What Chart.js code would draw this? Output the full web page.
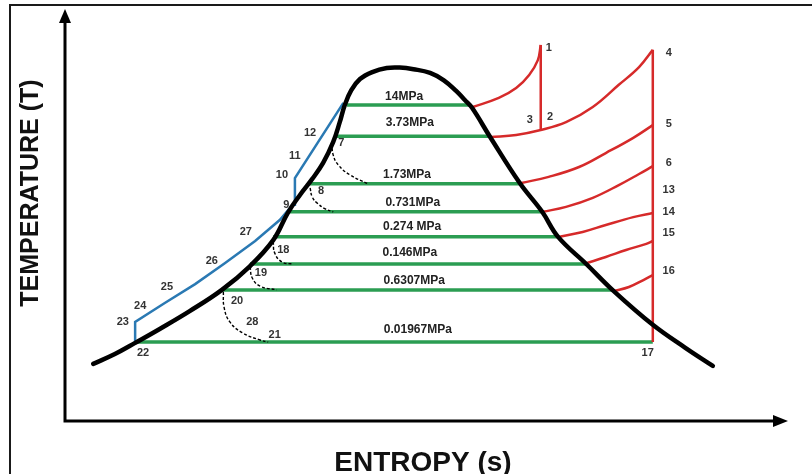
<!DOCTYPE html>
<html>
<head>
<meta charset="utf-8">
<script src="https://cdn.jsdelivr.net/npm/chart.js@4.4.1/dist/chart.umd.min.js"></script>
<style>
  html, body { margin: 0; padding: 0; background: #fff; }
  #wrap { width: 812px; height: 474px; }
</style>
</head>
<body>
<div id="wrap"><canvas id="ts"></canvas></div>
<script>
// T-s diagram: saturation dome, isobars, turbine / reheat lines, pump line.
// s in arbitrary entropy units (0..10), T in arbitrary temperature units (0..100).

// saturation dome
const satS = [0.39, 0.69, 0.97, 1.31, 1.73, 2.17, 2.56, 2.88, 3.08, 3.25, 3.42, 3.57, 3.71, 3.80, 3.87, 3.96,
  4.08, 4.25, 4.45, 4.63, 4.82, 5.05, 5.24, 5.41, 5.53, 5.63, 5.88, 6.29, 6.60, 6.82, 7.21, 7.59, 8.13, 8.58, 8.96];
const satT = [13.9, 16.3, 19.0, 22.4, 26.8, 31.9, 37.7, 44.0, 50.6, 55.0, 58.9, 62.8, 67.9, 72.7, 76.9, 80.5,
  83.2, 84.9, 85.9, 86.0, 85.6, 84.7, 82.9, 80.3, 78.1, 76.2, 69.1, 57.9, 50.9, 44.8, 38.2, 31.6, 23.4, 17.8, 13.4];

// isobars inside the dome (green)
const isobarNames = ["14MPa", "3.73MPa", "1.73MPa", "0.731MPa", "0.274 MPa", "0.146MPa", "0.6307MPa", "0.01967MPa"];
const isobarT = [76.9, 69.3, 57.7, 50.9, 44.8, 38.2, 31.9, 19.2];
const isobarSStart = [3.90, 3.75, 3.36, 3.11, 2.88, 2.56, 2.17, 1.00];
const isobarSEnd = [5.60, 5.88, 6.29, 6.60, 6.82, 7.21, 7.59, 8.13];
const isobarLabelS = [4.69, 4.77, 4.73, 4.81, 4.80, 4.77, 4.83, 4.88];
const isobarLabelT = [78.8, 72.7, 59.9, 53.0, 47.2, 40.9, 34.1, 22.1];

// superheat / turbine lines (red)
const superheatS = [5.64, 6.00, 6.24, 6.42, 6.54, 6.58];
const superheatT = [76.4, 78.6, 81.0, 84.2, 87.8, 91.5];
const hpExpS = [6.58, 6.58];
const hpExpT = [91.5, 70.8];
const reheatS = [5.89, 6.24, 6.58, 6.93, 7.30, 7.66, 7.94, 8.13];
const reheatT = [69.1, 69.6, 70.8, 72.7, 76.4, 81.8, 86.1, 90.3];
const lpExpS = [8.13, 8.13];
const lpExpT = [90.3, 19.2];
const bleed5S = [6.31, 6.69, 7.11, 7.48, 7.86, 8.13];
const bleed5T = [57.9, 59.4, 61.8, 65.2, 68.9, 72.0];
const bleed6S = [6.61, 6.93, 7.30, 7.66, 7.94, 8.13];
const bleed6T = [50.9, 52.1, 54.3, 57.4, 60.1, 62.0];
const bleed14S = [6.82, 7.16, 7.48, 7.86, 8.13];
const bleed14T = [44.8, 46.0, 47.7, 49.6, 50.6];
const bleed15S = [7.21, 7.48, 7.76, 8.04, 8.13];
const bleed15T = [38.4, 39.9, 41.6, 43.1, 43.8];
const bleed16S = [7.59, 7.80, 8.00, 8.13];
const bleed16T = [31.6, 32.6, 34.3, 35.5];

// compressed liquid / pump line (blue)
const liquidS = [0.97, 0.97, 1.38, 1.80, 2.21, 2.63, 2.97, 3.15, 3.18, 3.18, 3.85];
const liquidT = [19.2, 24.1, 28.7, 33.3, 38.4, 43.8, 48.9, 52.6, 52.6, 59.1, 77.4];

// subcooled drains (dashed)
const drain7S = [3.69, 3.71, 3.78, 3.94, 4.19];
const drain7T = [67.6, 64.7, 62.3, 59.9, 57.7];
const drain8S = [3.39, 3.42, 3.49, 3.60, 3.71];
const drain8T = [56.7, 54.5, 53.0, 51.6, 50.9];
const drain18S = [2.88, 2.90, 3.00, 3.15];
const drain18T = [43.6, 40.9, 38.7, 38.2];
const drain19S = [2.56, 2.59, 2.70, 2.93];
const drain19T = [37.5, 34.8, 32.8, 31.9];
const drain20S = [2.19, 2.20, 2.28, 2.46, 2.70, 2.81];
const drain20T = [31.4, 27.7, 24.1, 21.4, 19.7, 19.2];

// state point numbers
const stateNames = ["1", "4", "3", "2", "5", "6", "13", "14", "15", "16", "17", "7", "12", "11", "10", "9", "8",
  "27", "26", "25", "24", "23", "22", "18", "19", "20", "28", "21"];
const stateS = [6.69, 8.35, 6.43, 6.71, 8.35, 8.35, 8.35, 8.35, 8.35, 8.35, 8.06, 3.82, 3.39, 3.18, 3.00, 3.06, 3.54,
  2.50, 2.03, 1.41, 1.04, 0.80, 1.08, 3.02, 2.71, 2.38, 2.59, 2.90];
const stateT = [90.8, 89.5, 73.2, 74.0, 72.3, 62.8, 56.2, 50.9, 45.7, 36.5, 16.5, 67.6, 70.1, 64.5, 59.9, 52.6, 56.0,
  46.0, 38.9, 32.6, 28.0, 24.1, 16.5, 41.6, 36.0, 29.2, 24.1, 20.9];

const BLACK = "#000000";
const GREEN = "#2b9d52";
const RED = "#d62a2a";
const BLUE = "#2a79b3";
const FONT = "'Liberation Sans', Arial, sans-serif";

const zip = (xs, ys) => xs.map((x, i) => ({ x, y: ys[i] }));

function line(xs, ys, color, width, extra) {
  return Object.assign({
    data: zip(xs, ys),
    showLine: true,
    borderColor: color,
    borderWidth: width,
    pointRadius: 0,
    fill: false,
    tension: 0,
  }, extra || {});
}

const datasets = [];
// first dataset is drawn on top
datasets.push(line(satS, satT, BLACK, 4.5, { tension: 0.4, borderCapStyle: "round" }));
datasets.push(line(liquidS, liquidT, BLUE, 2.5));
[
  [superheatS, superheatT], [hpExpS, hpExpT], [reheatS, reheatT], [lpExpS, lpExpT],
  [bleed5S, bleed5T], [bleed6S, bleed6T], [bleed14S, bleed14T], [bleed15S, bleed15T], [bleed16S, bleed16T],
].forEach(([s, t]) => datasets.push(line(s, t, RED, 2.5, { tension: 0.4 })));
[
  [drain7S, drain7T], [drain8S, drain8T], [drain18S, drain18T], [drain19S, drain19T], [drain20S, drain20T],
].forEach(([s, t]) => datasets.push(line(s, t, BLACK, 1.4, { tension: 0.45, borderDash: [3, 2] })));
isobarT.forEach((t, i) => datasets.push(line([isobarSStart[i], isobarSEnd[i]], [t, t], GREEN, 3.5)));

const decor = {
  id: "decor",
  beforeDraw(chart) {
    const { ctx, chartArea: a } = chart;
    ctx.save();
    ctx.fillStyle = "#fff";
    ctx.fillRect(0, 0, chart.width, chart.height);
    // outer frame
    ctx.strokeStyle = "#1a1a1a";
    ctx.lineWidth = 2;
    ctx.beginPath();
    ctx.moveTo(10, chart.height);
    ctx.lineTo(10, 5);
    ctx.lineTo(chart.width, 5);
    ctx.stroke();
    // axes
    ctx.strokeStyle = BLACK;
    ctx.fillStyle = BLACK;
    ctx.lineWidth = 3;
    ctx.lineCap = "square";
    ctx.beginPath();
    ctx.moveTo(a.left, a.top + 8);
    ctx.lineTo(a.left, a.bottom);
    ctx.lineTo(a.right - 8, a.bottom);
    ctx.stroke();
    ctx.beginPath();
    ctx.moveTo(a.left, a.top - 1);
    ctx.lineTo(a.left - 6, a.top + 13);
    ctx.lineTo(a.left + 6, a.top + 13);
    ctx.closePath();
    ctx.fill();
    ctx.beginPath();
    ctx.moveTo(a.right, a.bottom);
    ctx.lineTo(a.right - 15, a.bottom - 6);
    ctx.lineTo(a.right - 15, a.bottom + 6);
    ctx.closePath();
    ctx.fill();
    // axis titles
    ctx.fillStyle = "#111";
    ctx.font = `bold 28px ${FONT}`;
    ctx.textAlign = "center";
    ctx.textBaseline = "alphabetic";
    ctx.fillText("ENTROPY (s)", 423, 471);
    ctx.translate(38, 193);
    ctx.rotate(-Math.PI / 2);
    ctx.font = `bold 25px ${FONT}`;
    ctx.fillText("TEMPERATURE (T)", 0, 0);
    ctx.restore();
  },
  afterDatasetsDraw(chart) {
    const { ctx, scales } = chart;
    ctx.save();
    ctx.textAlign = "center";
    ctx.textBaseline = "middle";
    ctx.fillStyle = "#222";
    ctx.font = `bold 12px ${FONT}`;
    isobarNames.forEach((name, i) => {
      ctx.fillText(name, scales.x.getPixelForValue(isobarLabelS[i]), scales.y.getPixelForValue(isobarLabelT[i]));
    });
    ctx.fillStyle = "#333";
    ctx.font = `bold 11px ${FONT}`;
    stateNames.forEach((name, i) => {
      ctx.fillText(name, scales.x.getPixelForValue(stateS[i]), scales.y.getPixelForValue(stateT[i]));
    });
    ctx.restore();
  },
};

new Chart(document.getElementById("ts"), {
  type: "scatter",
  data: { datasets },
  options: {
    responsive: true,
    maintainAspectRatio: false,
    animation: false,
    events: [],
    layout: { padding: { left: 65, right: 24, top: 10, bottom: 53 } },
    scales: {
      x: { type: "linear", min: 0, max: 10, display: false },
      y: { type: "linear", min: 0, max: 100, display: false },
    },
    plugins: { legend: { display: false }, tooltip: { enabled: false } },
  },
  plugins: [decor],
});
</script>
</body>
</html>
